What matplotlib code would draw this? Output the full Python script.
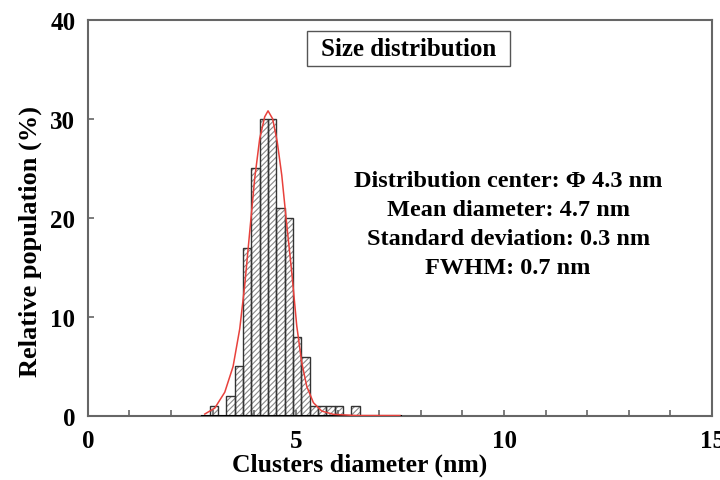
import matplotlib
import numpy as np

matplotlib.use("Agg")
import matplotlib.pyplot as plt
from matplotlib.patches import Rectangle

# histogram bins (nm) and relative population (%)
bin_centers = [3.03, 3.23, 3.43, 3.63, 3.83, 4.03, 4.23, 4.43, 4.63, 4.83,
               5.03, 5.23, 5.43, 5.63, 5.83, 6.03, 6.23, 6.43]
population = [1, 0, 2, 5, 17, 25, 30, 30, 21, 20, 8, 6, 1, 1, 1, 1, 0, 1]
bin_width = 0.2

# fitted curve
fit_x = [2.81, 3.05, 3.29, 3.49, 3.65, 3.77, 3.89, 4.01, 4.13, 4.25, 4.33,
         4.44, 4.55, 4.66, 4.78, 4.90, 5.02, 5.14, 5.26, 5.42, 5.62, 5.90,
         6.45, 7.00, 7.50]
fit_y = [0.2, 0.8, 2.4, 5.0, 8.8, 13.2, 18.6, 24.0, 28.0, 30.2, 30.8,
         30.0, 27.7, 24.3, 19.3, 14.5, 9.1, 5.4, 3.0, 1.35, 0.5, 0.17,
         0.05, 0.05, 0.05]

stats_lines = [
    "Distribution center: \u03a6 4.3 nm",
    "Mean diameter: 4.7 nm",
    "Standard deviation: 0.3 nm",
    "FWHM: 0.7 nm",
]

plt.rcParams["font.family"] = ["Liberation Serif", "DejaVu Serif"]
plt.rcParams["font.weight"] = "bold"
plt.rcParams["hatch.linewidth"] = 0.8

fig = plt.figure(figsize=(7.2, 4.81), dpi=100)
ax = fig.add_axes([0.122, 0.133, 0.867, 0.824])

ax.bar(bin_centers, population, width=bin_width, color="white",
       edgecolor="#8a8a8a", hatch="//////", linewidth=0)
ax.bar(bin_centers, population, width=bin_width, fill=False,
       edgecolor="#333333", linewidth=1.0)
ax.plot([2.75, 7.5], [0, 0], color="black", linewidth=2.2, zorder=3)
ax.plot(fit_x, fit_y, color="#e8413c", linewidth=1.1, zorder=4)

ax.set_xlim(0, 15)
ax.set_ylim(0, 40)
ax.set_xticks([0, 5, 10, 15])
ax.set_xticks(np.arange(0, 16, 1), minor=True)
ax.set_yticks([0, 10, 20, 30, 40])
ax.tick_params(axis="both", which="both", direction="in", color="#666666",
               labelsize=18, length=4, width=1.2)
ax.tick_params(axis="x", which="major", pad=9)
ax.tick_params(axis="y", which="major", pad=9)
ax.tick_params(top=False, right=False)
for side in ax.spines.values():
    side.set_color("#666666")
    side.set_linewidth(1.5)

ax.set_xlabel("Clusters diameter (nm)", fontsize=18.5, fontweight="bold",
              labelpad=0)
ax.xaxis.set_label_coords(0.436, -0.092)
ax.set_ylabel("Relative population (%)", fontsize=19, fontweight="bold")
ax.yaxis.set_label_coords(-0.074, 0.443)

# boxed title inside the axes
ax.add_patch(Rectangle((0.351, 0.883), 0.325, 0.088, transform=ax.transAxes,
                       facecolor="white", edgecolor="#555555", linewidth=1.0,
                       zorder=5))
ax.text(0.5135, 0.927, "Size distribution", transform=ax.transAxes,
        ha="center", va="center", fontsize=18, fontweight="bold", zorder=6)

ax.text(10.1, 19.4, "\n".join(stats_lines), ha="center", va="center",
        fontsize=17.5, fontweight="bold", linespacing=1.5)

fig.savefig("out.png", dpi=100)
